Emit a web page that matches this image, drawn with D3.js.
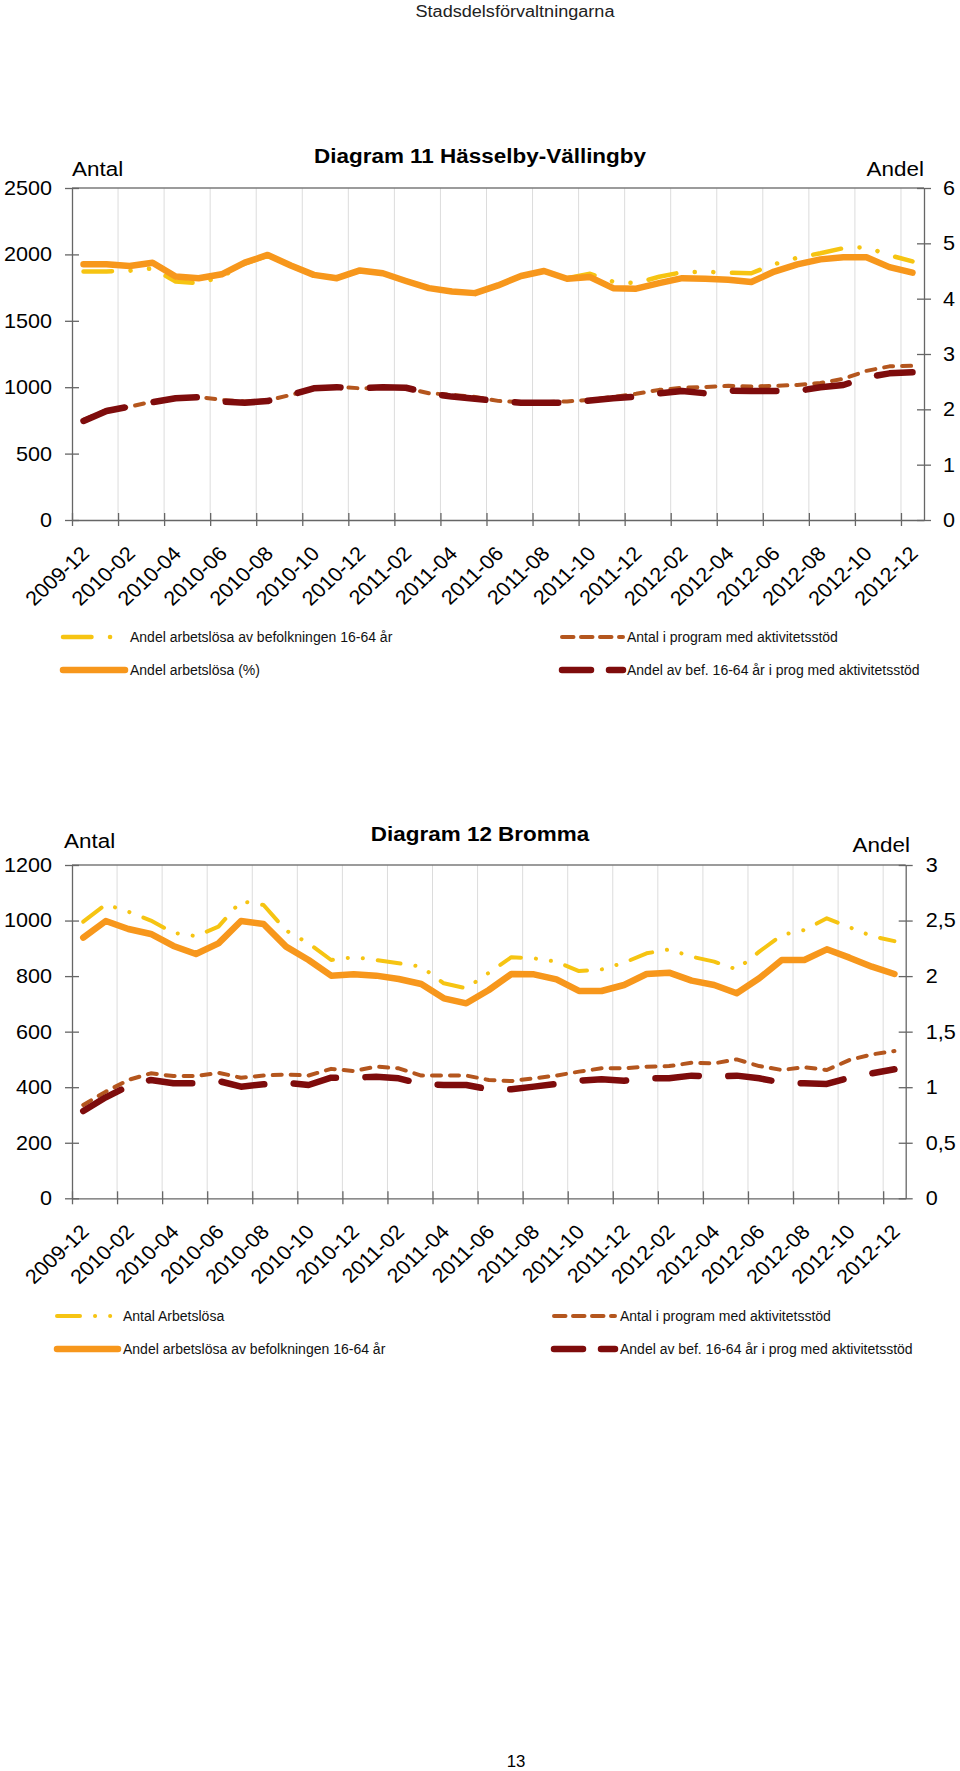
<!DOCTYPE html>
<html>
<head>
<meta charset="utf-8">
<title>Diagram 11 och 12</title>
<style>
  body { margin: 0; background: #fff; }
  svg { display: block; font-family: "Liberation Sans", Arial, sans-serif; }
</style>
</head>
<body>
<div id="page"></div>
<script src="https://cdn.jsdelivr.net/npm/d3@7/dist/d3.min.js"></script>
<script>
// --- data -------------------------------------------------------------
var months = ["2009-12",
  "2010-01", "2010-02", "2010-03", "2010-04", "2010-05", "2010-06", "2010-07", "2010-08", "2010-09", "2010-10", "2010-11", "2010-12",
  "2011-01", "2011-02", "2011-03", "2011-04", "2011-05", "2011-06", "2011-07", "2011-08", "2011-09", "2011-10", "2011-11", "2011-12",
  "2012-01", "2012-02", "2012-03", "2012-04", "2012-05", "2012-06", "2012-07", "2012-08", "2012-09", "2012-10", "2012-11", "2012-12"];

// Diagram 11 Hässelby-Vällingby
var hvArbetslosa = [1872, 1872, 1877, 1895, 1796, 1783, 1832, 1930, 1990, 1915, 1847, 1824, 1881, 1860, 1802, 1747, 1721, 1709, 1768,
  1839, 1873, 1820, 1854, 1794, 1783, 1832, 1866, 1869, 1862, 1858, 1926, 1975, 2009, 2047, 2054, 1994, 1947];
var hvAndelArbetslosa = [4.62, 4.62, 4.59, 4.65, 4.40, 4.37, 4.44, 4.65, 4.79, 4.60, 4.43, 4.37, 4.51, 4.46, 4.32, 4.19, 4.13, 4.10, 4.24,
  4.41, 4.50, 4.36, 4.39, 4.19, 4.18, 4.28, 4.37, 4.36, 4.34, 4.30, 4.49, 4.62, 4.71, 4.75, 4.75, 4.57, 4.47];
var hvProgAntal = [754, 829, 852, 893, 916, 927, 904, 892, 900, 942, 991, 1002, 992, 995, 995, 954, 943, 927, 897,
  887, 887, 893, 905, 927, 950, 980, 995, 1002, 1010, 1006, 1010, 1017, 1032, 1063, 1123, 1157, 1161];
var hvProgAndel = [1.79, 1.97, 2.05, 2.13, 2.20, 2.22, 2.14, 2.12, 2.15, 2.26, 2.38, 2.40, 2.38, 2.40, 2.39, 2.29, 2.23, 2.19, 2.15,
  2.12, 2.12, 2.12, 2.16, 2.20, 2.23, 2.29, 2.33, 2.29, 2.34, 2.33, 2.33, 2.33, 2.40, 2.44, 2.58, 2.65, 2.67];
var hvLeftTicks = [0, 500, 1000, 1500, 2000, 2500];
var hvRightTicks = [0, 1, 2, 3, 4, 5, 6];

// Diagram 12 Bromma
var brArbetslosa = [996, 1058, 1032, 1000, 956, 944, 978, 1070, 1056, 964, 918, 858, 868, 858, 846, 834, 774, 756, 812,
  868, 864, 852, 818, 824, 848, 882, 896, 870, 852, 824, 888, 948, 966, 1008, 976, 944, 926];
var brAndelArbetslosa = [2.346, 2.496, 2.424, 2.379, 2.271, 2.199, 2.295, 2.496, 2.469, 2.265, 2.145, 2.004, 2.016, 2.004, 1.974, 1.929, 1.80, 1.755, 1.875,
  2.019, 2.016, 1.971, 1.866, 1.866, 1.920, 2.019, 2.031, 1.959, 1.920, 1.845, 1.980, 2.145, 2.145, 2.241, 2.166, 2.085, 2.019];
var brProgAntal = [336, 384, 426, 450, 440, 440, 452, 434, 442, 446, 442, 466, 458, 474, 468, 442, 442, 442, 426,
  422, 432, 442, 456, 468, 468, 474, 476, 488, 486, 500, 476, 462, 472, 462, 498, 518, 530];
var brProgAndel = [0.786, 0.909, 1.011, 1.065, 1.035, 1.035, 1.056, 1.005, 1.026, 1.041, 1.02, 1.086, 1.086, 1.095, 1.08, 1.029, 1.02, 1.02, 0.981,
  0.981, 1.005, 1.029, 1.059, 1.071, 1.059, 1.08, 1.08, 1.104, 1.095, 1.104, 1.08, 1.041, 1.035, 1.029, 1.086, 1.125, 1.161];
var brLeftTicks = [0, 200, 400, 600, 800, 1000, 1200];
var brRightTicks = [0, 0.5, 1, 1.5, 2, 2.5, 3];

// --- styles -----------------------------------------------------------
var gul = "#F6C412", orange = "#F7971C", brun = "#B4561E", rod = "#7E0C0C";
var FONT = "'Liberation Sans', Arial, sans-serif";
var K = 1.08; // text in the picture is a bit wide

var svg = d3.select("#page").append("svg")
  .attr("width", 960)
  .attr("height", 1771);

function wide(sel, k) {
  sel.each(function () {
    var t = d3.select(this);
    var x = +t.attr("x") || 0, y = +t.attr("y") || 0;
    t.attr("x", 0).attr("y", 0)
      .attr("transform", "translate(" + x + "," + y + ") scale(" + k + ",1)");
  });
}

function label(x, y, txt, size, anchor, bold, k) {
  var t = svg.append("text")
    .attr("x", x).attr("y", y)
    .attr("font-size", size)
    .attr("text-anchor", anchor)
    .attr("fill", "#000")
    .attr("font-weight", bold ? "bold" : null)
    .text(txt);
  wide(t, k);
  return t;
}

function drawChart(c) {
  var x = d3.scaleLinear().domain([0, months.length]).range([c.left, c.right]);
  var yL = d3.scaleLinear().domain([0, c.leftMax]).range([c.bottom, c.top]);
  var yR = d3.scaleLinear().domain([0, c.rightMax]).range([c.bottom, c.top]);
  var half = (x(1) - x(0)) / 2;
  var g = svg.append("g");

  // gridlines every second month
  g.append("g").selectAll("line")
    .data(d3.range(2, months.length, 2))
    .enter().append("line")
    .attr("x1", function (d) { return x(d); })
    .attr("x2", function (d) { return x(d); })
    .attr("y1", c.top).attr("y2", c.bottom)
    .attr("stroke", "#dcdcdc").attr("stroke-width", 1);

  g.append("line")
    .attr("x1", c.left).attr("x2", c.right)
    .attr("y1", c.top).attr("y2", c.top)
    .attr("stroke", "#7a7a7a").attr("stroke-width", 1.3);

  c.series.forEach(function (s) {
    var sc = s.axis === "L" ? yL : yR;
    var line = d3.line()
      .x(function (d, i) { return x(i + 0.5); })
      .y(function (d) { return sc(d); });
    g.append("path")
      .attr("d", line(s.values))
      .attr("fill", "none")
      .attr("stroke", s.color)
      .attr("stroke-width", s.width)
      .attr("stroke-linecap", s.cap || "round")
      .attr("stroke-linejoin", "round")
      .attr("stroke-dasharray", s.dash);
  });

  // axes
  var axL = g.append("g")
    .attr("transform", "translate(" + c.left + ",0)")
    .call(d3.axisLeft(yL).tickValues(c.leftTicks).tickSize(7).tickSizeOuter(0).tickPadding(13)
      .tickFormat(d3.format("d")));
  axL.selectAll(".tick line").attr("x1", 7);

  var axR = g.append("g")
    .attr("transform", "translate(" + c.right + ",0)")
    .call(d3.axisRight(yR).tickValues(c.rightTicks).tickSize(7).tickSizeOuter(0).tickPadding(c.rightPad)
      .tickFormat(function (d) { return String(d).replace(".", ","); }));
  axR.selectAll(".tick line").attr("x1", -7);

  var axB = g.append("g")
    .attr("transform", "translate(0," + c.bottom + ")")
    .call(d3.axisBottom(x).tickValues(d3.range(0, months.length, 2))
      .tickFormat(function (i) { return months[i]; })
      .tickSize(6).tickSizeOuter(0));
  axB.selectAll(".tick line").attr("y1", -7);
  axB.selectAll(".tick text")
    .attr("x", 0).attr("y", 0).attr("dy", "0.35em")
    .attr("text-anchor", "end")
    .attr("transform", "translate(" + (half + 1) + ",30) scale(" + K + ",1) rotate(-45)");

  [axL, axR, axB].forEach(function (a) {
    a.attr("font-size", 20).attr("font-family", FONT);
    a.selectAll(".domain, .tick line").attr("stroke", "#666").attr("stroke-width", 1.3);
    a.selectAll(".tick text").attr("fill", "#000");
  });
  wide(axL.selectAll(".tick text"), K);
  wide(axR.selectAll(".tick text"), K);

  // titles
  label(480, c.titleY, c.title, 21, "middle", true, 1.07);
  label(c.antalX, c.antalY, "Antal", 21, "start", false, 1.07);
  label(c.andelX, c.andelY, "Andel", 21, "end", false, 1.07);

  // legend
  var lg = svg.append("g").attr("font-size", 14);
  c.series.forEach(function (s) {
    var col = c.legendCols[s.col], y = c.legendRows[s.row];
    lg.append("line")
      .attr("x1", col[0]).attr("x2", col[1])
      .attr("y1", y).attr("y2", y)
      .attr("stroke", s.color)
      .attr("stroke-width", s.width)
      .attr("stroke-linecap", s.cap || "round")
      .attr("stroke-dasharray", s.legendDash || s.dash);
    lg.append("text")
      .attr("x", col[2]).attr("y", y)
      .attr("dy", "0.35em")
      .attr("fill", "#111")
      .text(s.label);
  });
}

// header / footer
label(515, 17, "Stadsdelsförvaltningarna", 16, "middle", false, 1.13).attr("fill", "#222");

drawChart({
  title: "Diagram 11 Hässelby-Vällingby", titleY: 163,
  left: 72, right: 924, top: 188, bottom: 520,
  leftMax: 2500, rightMax: 6, leftTicks: hvLeftTicks, rightTicks: hvRightTicks, rightPad: 12,
  antalX: 72, antalY: 176, andelX: 924, andelY: 176,
  legendRows: [637, 670],
  legendCols: [[63, 125, 130], [562, 623, 627]],
  series: [
    { values: hvProgAntal, axis: "L", color: brun, width: 4, dash: "9,9", legendDash: "11.5,7.5",
      label: "Antal i program med aktivitetsstöd", col: 1, row: 0 },
    { values: hvProgAndel, axis: "R", color: rod, width: 6.5, dash: "43.5,29.5", legendDash: "29,18",
      label: "Andel av bef. 16-64 år i prog med aktivitetsstöd", col: 1, row: 1 },
    { values: hvArbetslosa, axis: "L", color: gul, width: 4.5, dash: "28.5,18.5,0.1,18.5,0.1,18.5",
      label: "Andel arbetslösa av befolkningen 16-64 år", col: 0, row: 0 },
    { values: hvAndelArbetslosa, axis: "R", color: orange, width: 6.5, dash: null,
      label: "Andel arbetslösa (%)", col: 0, row: 1 }
  ]
});

drawChart({
  title: "Diagram 12 Bromma", titleY: 841,
  left: 72, right: 905.7, top: 865, bottom: 1198.3,
  leftMax: 1200, rightMax: 3, leftTicks: brLeftTicks, rightTicks: brRightTicks, rightPad: 13,
  antalX: 64, antalY: 848, andelX: 910, andelY: 852,
  legendRows: [1316, 1349],
  legendCols: [[57, 118, 123], [554, 615, 620]],
  series: [
    { values: brProgAntal, axis: "L", color: brun, width: 4, dash: "9,9", legendDash: "11.5,7.5",
      label: "Antal i program med aktivitetsstöd", col: 1, row: 0 },
    { values: brProgAndel, axis: "R", color: rod, width: 6.5, dash: "43.5,29.5", legendDash: "29,18",
      label: "Andel av bef. 16-64 år i prog med aktivitetsstöd", col: 1, row: 1 },
    { values: brArbetslosa, axis: "L", color: gul, width: 4, dash: "23,15,0.1,15,0.1,15",
      label: "Antal Arbetslösa", col: 0, row: 0 },
    { values: brAndelArbetslosa, axis: "R", color: orange, width: 6.5, dash: null,
      label: "Andel arbetslösa av befolkningen 16-64 år", col: 0, row: 1 }
  ]
});

label(516, 1767, "13", 16, "middle", false, 1.05);
</script>
</body>
</html>
